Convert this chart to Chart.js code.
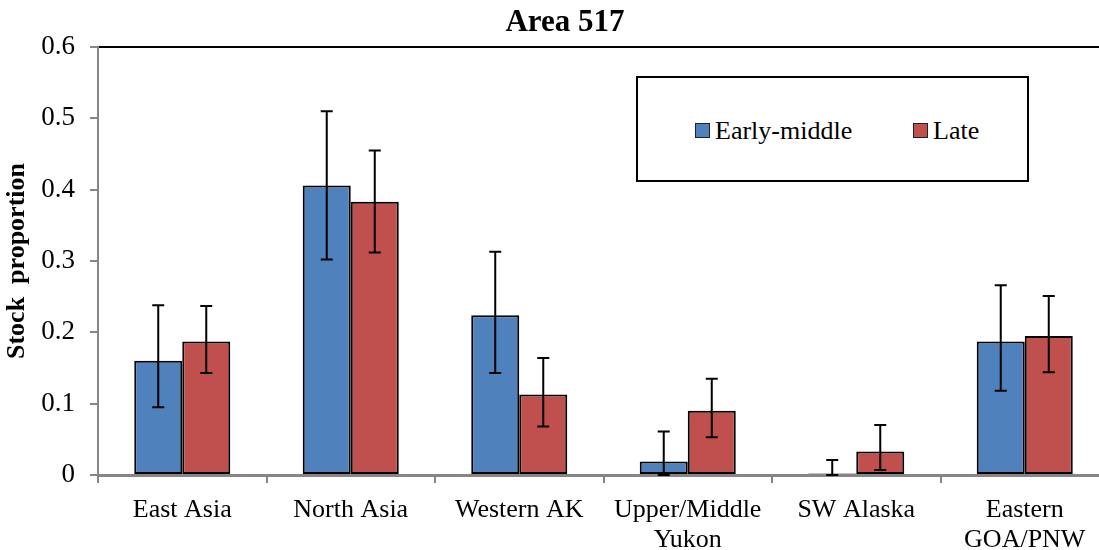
<!DOCTYPE html>
<html>
<head>
<meta charset="utf-8">
<script src="https://cdn.jsdelivr.net/npm/chart.js@4.4.0/dist/chart.umd.min.js"></script>
<style>
  html, body { margin: 0; padding: 0; background: #fff; overflow: hidden; }
  #wrap { position: relative; width: 1111px; height: 550px; }
  #title {
    position: absolute; left: 415px; width: 300px; top: 3px; text-align: center;
    font: bold 31px 'Liberation Serif', 'Times New Roman', serif; color: #000;
  }
  #legend {
    position: absolute; left: 636px; top: 76px; width: 389px; height: 102px;
    border: 2px solid #000; background: #fff;
    font: 26px 'Liberation Serif', 'Times New Roman', serif; color: #000;
  }
  .item { position: absolute; top: 38px; line-height: 30px; white-space: nowrap; }
  .swatch {
    display: inline-block; width: 13px; height: 13px; border: 1.5px solid #222;
    margin-right: 5px; vertical-align: 1px;
  }
</style>
</head>
<body>
<div id="wrap">
  <canvas id="chart" width="1111" height="550"></canvas>
  <div id="title">Area 517</div>
  <div id="legend">
    <div class="item" style="left:57px"><span class="swatch" style="background:#4F81BD"></span>Early-middle</div>
    <div class="item" style="left:275px"><span class="swatch" style="background:#C0504D"></span>Late</div>
  </div>
</div>
<script>
// ─── Data ─────────────────────────────────────────────────────────────────────
const categories = [['East Asia'], ['North Asia'], ['Western AK'], ['Upper/Middle', 'Yukon'], ['SW Alaska'], ['Eastern', 'GOA/PNW']];

const earlyMiddle     = [0.160, 0.406, 0.224, 0.019, 0.002, 0.187];
const earlyMiddleLow  = [0.095, 0.302, 0.143, 0.000, 0.000, 0.118];
const earlyMiddleHigh = [0.238, 0.510, 0.313, 0.061, 0.021, 0.266];

const late     = [0.187, 0.383, 0.113, 0.090, 0.033, 0.195];
const lateLow  = [0.143, 0.312, 0.068, 0.053, 0.007, 0.144];
const lateHigh = [0.237, 0.455, 0.164, 0.135, 0.070, 0.251];

const yTicks = [0, 0.1, 0.2, 0.3, 0.4, 0.5, 0.6];

const FONT = "'Liberation Serif', 'Times New Roman', serif";
const AXIS_GRAY = '#868686';

// ─── Error bars ───────────────────────────────────────────────────────────────
const errorBars = {
  id: 'errorBars',
  afterDatasetsDraw(chart) {
    const { ctx } = chart;
    const y = chart.scales.y;
    chart.data.datasets.forEach((ds, i) => {
      const meta = chart.getDatasetMeta(i);
      meta.data.forEach((bar, j) => {
        const top = y.getPixelForValue(ds.errHigh[j]);
        const bot = y.getPixelForValue(ds.errLow[j]);
        ctx.save();
        ctx.strokeStyle = '#000';
        ctx.lineWidth = 2;
        ctx.beginPath();
        ctx.moveTo(bar.x, top); ctx.lineTo(bar.x, bot);
        ctx.moveTo(bar.x - 6, top); ctx.lineTo(bar.x + 6, top);
        ctx.moveTo(bar.x - 6, bot); ctx.lineTo(bar.x + 6, bot);
        ctx.stroke();
        ctx.restore();
      });
    });
  }
};

// ─── Chart ────────────────────────────────────────────────────────────────────
new Chart(document.getElementById('chart'), {
  type: 'bar',
  data: {
    labels: categories,
    datasets: [
      { label: 'Early-middle', data: earlyMiddle, errLow: earlyMiddleLow, errHigh: earlyMiddleHigh,
        backgroundColor: '#4F81BD', borderColor: '#000', borderWidth: 2, borderSkipped: false,
        categoryPercentage: 0.57, barPercentage: 1 },
      { label: 'Late', data: late, errLow: lateLow, errHigh: lateHigh,
        backgroundColor: '#C0504D', borderColor: '#000', borderWidth: 2, borderSkipped: false,
        categoryPercentage: 0.57, barPercentage: 1 },
    ]
  },
  options: {
    responsive: false,
    animation: false,
    layout: { padding: { top: 47, right: 2, bottom: 0, left: 0 } },
    plugins: {
      legend: { display: false },
      tooltip: { enabled: false },
      title: { display: false }
    },
    scales: {
      x: {
        afterFit: s => { s.height = 75; },
        border: { color: AXIS_GRAY, width: 3 },
        grid: { offset: true, drawOnChartArea: false, drawTicks: true, tickLength: 8,
                tickColor: AXIS_GRAY, lineWidth: 2 },
        ticks: { color: '#000', font: { family: FONT, size: 26, lineHeight: 1.15 }, padding: 12,
                 maxRotation: 0, autoSkip: false }
      },
      y: {
        min: 0, max: 0.6,
        afterFit: s => { s.width = 98; },
        afterBuildTicks: s => { s.ticks = yTicks.map(v => ({ value: v })); },
        border: { color: AXIS_GRAY, width: 2 },
        grid: {
          drawTicks: true, tickLength: 8, tickColor: AXIS_GRAY,
          color: c => (c.tick && c.tick.value === 0.6 ? '#000' : 'rgba(0,0,0,0)'),
          lineWidth: 2
        },
        ticks: { color: '#000', font: { family: FONT, size: 27 }, padding: 15,
                 callback: v => String(v) },
        title: { display: true, text: 'Stock  proportion', color: '#000',
                 font: { family: FONT, size: 26, weight: 'bold' }, padding: { top: 2, bottom: 0 } }
      }
    }
  },
  plugins: [errorBars]
});
</script>
</body>
</html>
